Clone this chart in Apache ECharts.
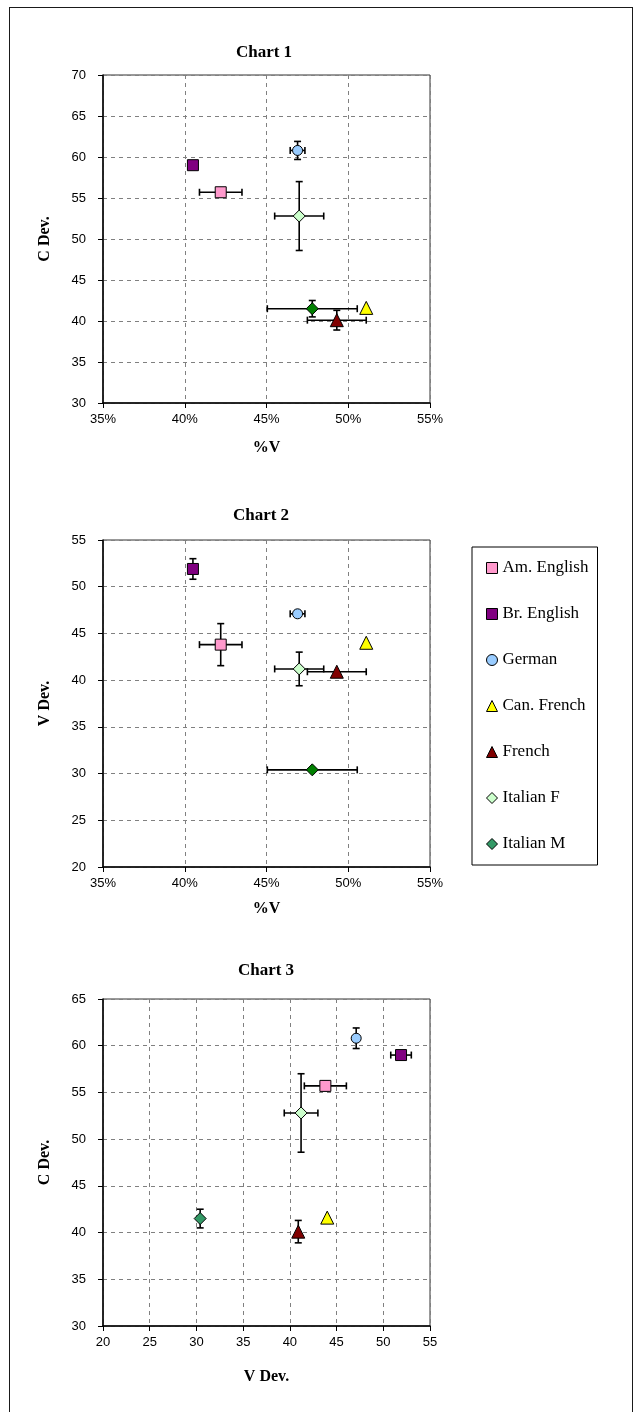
<!DOCTYPE html>
<html>
<head>
<meta charset="utf-8">
<title>Vowel and consonant deviation by language</title>
<script src="https://cdn.jsdelivr.net/npm/echarts@6/dist/echarts.min.js"></script>
<style>
  html, body { margin: 0; padding: 0; background: #fff; overflow: hidden; }
  #frame { position: absolute; left: 9px; top: 7px; width: 624px; height: 1500px;
           border: 1px solid #1a1a1a; box-sizing: border-box; }
  #chart { position: absolute; left: 0; top: 0; width: 634px; height: 1412px; }
</style>
</head>
<body>
<div id="frame"></div>
<div id="chart"></div>
<script>
// Per-language measurements (mean and half-width of the error bar)
const languages = ['Am. English', 'Br. English', 'German', 'Can. French', 'French', 'Italian F', 'Italian M'];
const pctV     = [42.2, 40.5, 46.9, 51.1, 49.3, 47.0, 47.8];
const pctVErr  = [1.3, 0, 0.45, 0, 1.8, 1.5, 2.75];
const vDev     = [43.8, 51.9, 47.1, 44.0, 40.9, 41.2, 30.4];
const vDevErr  = [2.25, 1.1, 0, 0, 0, 1.8, 0];
const cDev     = [55.7, 59.0, 60.8, 41.6, 40.1, 52.8, 41.5];
const cDevErr  = [0.5, 0, 1.1, 0, 1.2, 4.2, 1.0];

// Axis ranges
const pctTicks   = { min: 35, max: 55, interval: 5 };
const cDevTicks  = { min: 30, max: 70, interval: 5 };
const vDevTicks  = { min: 20, max: 55, interval: 5 };
const cDevTicks3 = { min: 30, max: 65, interval: 5 };
const vDevTicks3 = { min: 20, max: 55, interval: 5 };

// Marker styling
const symbols = ['rect', 'rect', 'circle', 'triangle', 'triangle', 'diamond', 'diamond'];
const symbolSizes = [11, 11, 10, 13, 13, 12, 12];
const colors = ['#FF99CC', '#800080', '#99CCFF', '#FFFF00', '#800000', '#CCFFCC', '#008000'];
const colorsChart3 = ['#FF99CC', '#800080', '#99CCFF', '#FFFF00', '#800000', '#CCFFCC', '#339966'];

const SERIF = '"Liberation Serif", "Times New Roman", serif';
const SANS = '"Liberation Sans", Arial, sans-serif';

const grids = [
  { left: 103, top: 75,  width: 327, height: 328 },
  { left: 103, top: 540, width: 327, height: 327 },
  { left: 103, top: 999, width: 327, height: 327 }
].map(g => Object.assign({ show: true, borderColor: '#333', borderWidth: 1, backgroundColor: '#fff' }, g));

function makeAxis(gridIndex, range, name, nameGap, isY, pct) {
  return {
    type: 'value',
    gridIndex,
    min: range.min, max: range.max, interval: range.interval,
    name, nameLocation: 'middle', nameGap,
    nameRotate: isY ? 90 : 0,
    nameTextStyle: { fontFamily: SERIF, fontWeight: 'bold', fontSize: 16, color: '#000' },
    axisLine: { show: true, onZero: false, lineStyle: { color: '#000', width: 1.5 } },
    axisTick: { show: true, inside: false, length: 5, lineStyle: { color: '#000', width: 1 } },
    axisLabel: {
      margin: isY ? 17 : 10,
      fontFamily: SANS, fontSize: 13, color: '#000',
      formatter: v => pct ? v + '%' : String(v)
    },
    splitLine: { show: true, lineStyle: { color: '#808080', width: 1, type: [4, 4] } }
  };
}

const xAxes = [
  makeAxis(0, pctTicks, '%V', 37, false, true),
  makeAxis(1, pctTicks, '%V', 34, false, true),
  makeAxis(2, vDevTicks3, 'V Dev.', 43, false, false)
];
const yAxes = [
  makeAxis(0, cDevTicks, 'C Dev.', 50, true, false),
  makeAxis(1, vDevTicks, 'V Dev.', 50, true, false),
  makeAxis(2, cDevTicks3, 'C Dev.', 50, true, false)
];

// Cross-shaped error bars with end caps, drawn beneath the markers
function errorBars(gridIndex, xs, ys, xe, ye) {
  return {
    type: 'custom',
    xAxisIndex: gridIndex, yAxisIndex: gridIndex,
    silent: true, z: 2,
    data: xs.map((x, i) => [x, ys[i], xe[i], ye[i]]),
    encode: { x: 0, y: 1 },
    renderItem(params, api) {
      const x = api.value(0), y = api.value(1);
      const ex = api.value(2), ey = api.value(3);
      const cap = 3.5;
      const style = { stroke: '#000', lineWidth: 1.6 };
      const kids = [];
      const line = (x1, y1, x2, y2) => kids.push({ type: 'line', shape: { x1, y1, x2, y2 }, style });
      if (ex > 0) {
        const a = api.coord([x - ex, y]), b = api.coord([x + ex, y]);
        line(a[0], a[1], b[0], b[1]);
        line(a[0], a[1] - cap, a[0], a[1] + cap);
        line(b[0], b[1] - cap, b[0], b[1] + cap);
      }
      if (ey > 0) {
        const a = api.coord([x, y - ey]), b = api.coord([x, y + ey]);
        line(a[0], a[1], b[0], b[1]);
        line(a[0] - cap, a[1], a[0] + cap, a[1]);
        line(b[0] - cap, b[1], b[0] + cap, b[1]);
      }
      return { type: 'group', children: kids };
    }
  };
}

function markers(gridIndex, xs, ys, palette) {
  return languages.map((name, i) => ({
    type: 'scatter',
    name,
    xAxisIndex: gridIndex, yAxisIndex: gridIndex,
    z: 3,
    symbol: symbols[i],
    symbolSize: symbolSizes[i],
    itemStyle: { color: palette[i], borderColor: '#000', borderWidth: 1, opacity: 1 },
    emphasis: { disabled: true },
    data: [[xs[i], ys[i]]]
  }));
}

const series = [
  errorBars(0, pctV, cDev, pctVErr, cDevErr),
  ...markers(0, pctV, cDev, colors),
  errorBars(1, pctV, vDev, pctVErr, vDevErr),
  ...markers(1, pctV, vDev, colors),
  errorBars(2, vDev, cDev, vDevErr, cDevErr),
  ...markers(2, vDev, cDev, colorsChart3)
];

const titleStyle = { fontFamily: SERIF, fontWeight: 'bold', fontSize: 17, color: '#000' };
const titles = [
  { text: 'Chart 1', left: 264, top: 44 },
  { text: 'Chart 2', left: 261, top: 507 },
  { text: 'Chart 3', left: 266, top: 962 }
].map(t => Object.assign({ textAlign: 'center', padding: 0, textStyle: titleStyle }, t));

const chart = echarts.init(document.getElementById('chart'), null, { renderer: 'canvas' });
chart.setOption({
  animation: false,
  backgroundColor: 'transparent',
  title: titles,
  grid: grids,
  xAxis: xAxes,
  yAxis: yAxes,
  legend: {
    orient: 'vertical',
    left: 472, top: 547,
    padding: [11, 5, 11, 14],
    itemGap: 26,
    itemWidth: 11, itemHeight: 11,
    borderColor: '#000', borderWidth: 1,
    backgroundColor: '#fff',
    selectedMode: false,
    textStyle: { fontFamily: SERIF, fontSize: 17, color: '#000', lineHeight: 20, width: 90 },
    data: languages.map((name, i) => ({
      name,
      icon: symbols[i],
      itemStyle: { color: colorsChart3[i], borderColor: '#000', borderWidth: 1 }
    }))
  },
  series
});
</script>
</body>
</html>
